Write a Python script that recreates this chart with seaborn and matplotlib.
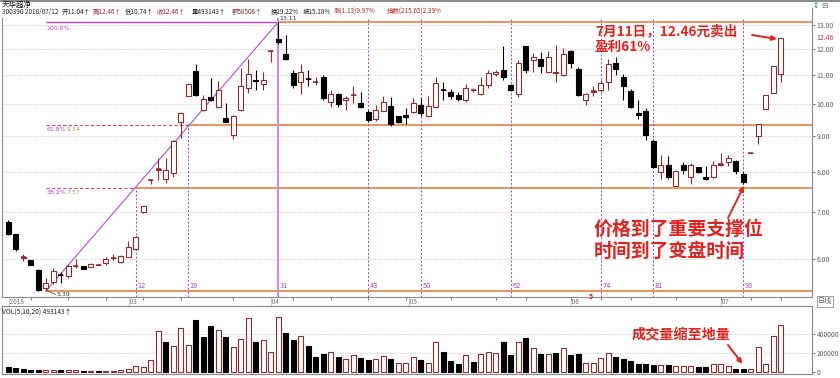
import numpy as np
import pandas as pd
import matplotlib
matplotlib.use("Agg")
import matplotlib.pyplot as plt
import seaborn as sns
from matplotlib.ticker import FixedLocator, NullLocator, NullFormatter, FuncFormatter
from matplotlib.transforms import blended_transform_factory

sns.set_theme(style="white")
plt.rcParams['font.family'] = ['Noto Sans CJK SC', 'DejaVu Sans']
plt.rcParams['axes.unicode_minus'] = False

# ---------------- data ----------------
bar_index = list(range(-5, 99))
opens = [6.78, 6.50, 6.02, 5.97, 5.78,
         5.44, 5.55, 5.69, 5.67, 5.85, 5.85, 5.84, 5.88, 5.92, 6.01,
         5.93, 6.04, 6.20, 6.99, 7.77, 8.05, 7.82, 7.96, 9.42, 10.28,
         11.16, 9.81, 10.24, 9.90, 9.54, 9.03, 9.81, 10.55, 10.82, 10.68,
         11.92, 12.38, 11.80, 11.07, 10.76, 10.88, 10.76, 10.92, 10.07, 10.34,
         10.14, 10.30, 10.05, 9.73, 9.51, 9.79, 9.94, 9.60, 9.65, 9.73,
         9.97, 9.60, 9.91, 10.47, 10.42, 10.31, 10.14, 10.47, 10.34, 10.65,
         11.03, 11.19, 10.65, 10.34, 12.11, 11.57, 11.62, 11.12, 11.07, 11.01,
         11.90, 11.24, 10.14, 10.41, 10.49, 10.77, 11.45, 10.95, 10.45, 9.72,
         9.79, 8.86, 7.98, 8.19, 7.64, 8.19, 7.86, 8.11, 7.86, 7.86,
         8.18, 8.27, 8.28, 7.95, 8.51, 9.00, 9.83, 10.38, 11.04]
highs = [6.82, 6.52, 6.09, 5.98, 5.80,
         5.63, 5.82, 5.75, 5.90, 6.00, 5.86, 5.91, 5.89, 6.03, 6.10,
         6.07, 6.37, 6.47, 7.14, 7.78, 8.37, 8.37, 8.88, 9.74, 10.72,
         11.40, 10.31, 10.91, 10.80, 10.05, 9.66, 11.27, 11.62, 11.20, 11.12,
         11.94, 13.11, 12.57, 11.19, 11.43, 11.20, 10.92, 11.00, 10.48, 10.36,
         10.27, 10.62, 10.42, 9.81, 9.97, 10.27, 10.24, 9.63, 9.86, 10.20,
         10.20, 10.27, 10.92, 10.77, 10.52, 10.40, 10.70, 10.56, 10.92, 11.19,
         11.19, 12.10, 10.70, 11.57, 12.13, 11.83, 11.89, 11.90, 12.16, 12.03,
         11.95, 11.30, 10.38, 10.60, 10.83, 11.60, 11.68, 11.05, 10.50, 10.14,
         9.86, 8.90, 8.45, 8.42, 8.05, 8.27, 8.22, 8.13, 8.14, 8.28,
         8.52, 8.45, 8.32, 7.98, 8.51, 9.36, 10.30, 11.33, 12.46]
lows = [6.48, 6.16, 5.95, 5.87, 5.40,
        5.39, 5.52, 5.53, 5.63, 5.82, 5.79, 5.83, 5.87, 5.88, 5.98,
        5.92, 6.03, 6.18, 6.98, 7.67, 7.78, 7.70, 7.86, 8.95, 10.26,
        10.27, 9.78, 10.09, 9.88, 9.42, 8.90, 9.79, 10.38, 10.48, 10.48,
        11.50, 12.20, 11.57, 10.56, 10.34, 10.60, 10.65, 10.14, 9.90, 9.92,
        9.81, 10.03, 9.87, 9.42, 9.45, 9.77, 9.30, 9.38, 9.36, 9.70,
        9.62, 9.58, 9.88, 10.14, 10.17, 10.10, 10.07, 10.40, 10.30, 10.55,
        10.98, 10.83, 10.44, 10.24, 11.10, 11.12, 11.07, 11.07, 10.74, 10.98,
        11.25, 10.27, 9.97, 10.27, 10.42, 10.46, 11.01, 10.14, 9.88, 9.52,
        8.88, 8.10, 7.80, 7.82, 7.62, 7.95, 7.69, 7.97, 7.78, 7.83,
        8.16, 8.14, 7.93, 7.68, 8.51, 8.77, 9.83, 10.38, 10.74]
closes = [6.52, 6.19, 6.03, 5.88, 5.41,
          5.53, 5.77, 5.68, 5.85, 5.86, 5.80, 5.90, 5.88, 6.00, 6.02,
          6.06, 6.23, 6.44, 7.13, 7.78, 8.08, 8.04, 8.86, 9.72, 10.69,
          10.31, 10.17, 10.14, 10.48, 9.44, 9.62, 10.62, 11.04, 10.80, 10.83,
          11.93, 12.28, 11.60, 10.65, 11.12, 10.87, 10.77, 10.20, 10.34, 10.00,
          10.20, 10.31, 9.89, 9.49, 9.81, 10.08, 9.35, 9.41, 9.58, 10.05,
          9.71, 9.94, 10.72, 10.46, 10.28, 10.17, 10.56, 10.48, 10.65, 11.07,
          11.12, 10.92, 10.48, 11.44, 11.21, 11.70, 11.35, 11.68, 11.12, 11.80,
          11.46, 10.31, 10.34, 10.43, 10.71, 11.43, 11.24, 10.61, 9.91, 9.64,
          9.03, 8.13, 8.19, 7.85, 8.01, 8.04, 8.19, 8.00, 7.80, 8.19,
          8.20, 8.38, 8.02, 7.74, 8.51, 9.36, 10.30, 11.33, 12.46]
volumes = [48000, 40000, 28000, 22000, 26000,
           24000, 22000, 20000, 20000, 18000, 16000, 15000, 12000, 14000, 16000,
           18000, 28000, 63000, 52000, 126000, 428000, 315000, 270000, 458000, 280000,
           544000, 359000, 482000, 434000, 359000, 263000, 342000, 564000, 315000, 332000,
           212000, 571000, 407000, 332000, 373000, 274000, 161000, 188000, 205000, 154000,
           133000, 178000, 143000, 123000, 137000, 168000, 137000, 99000, 96000, 157000,
           122000, 98000, 308000, 210000, 112000, 80000, 182000, 105000, 185000, 210000,
           203000, 315000, 182000, 308000, 357000, 245000, 192000, 185000, 203000, 245000,
           182000, 192000, 98000, 98000, 147000, 200000, 158000, 140000, 112000, 80000,
           80000, 70000, 70000, 77000, 60000, 60000, 60000, 52000, 52000, 80000,
           88000, 63000, 35000, 35000, 28000, 259000, 80000, 378000, 493143]

fib_low, fib_high = 5.39, 13.11
fib_names = ["100.0%", "61.8%", "38.2%"]
fib_values = [13.11, 9.34, 7.57]
fib_cross = [31, 19, 12]
time_marks = [12, 19, 31, 43, 50, 62, 74, 81, 93]
month_labels = ["2018", "03", "04", "05", "06", "07"]
month_pos = [-5, 11, 30, 48.3, 70, 90]
week_ticks = [-2, 3, 8, 13, 18, 25, 33, 38, 43, 48, 54, 60, 64, 70, 74, 78, 84, 90, 94, 98]
price_ticks = [6, 7, 8, 9, 10, 11, 12, 13]
vol_ticks = [0, 200000, 400000]

header_parts = ["300390 2018/07/12", "开11.04↑", "高12.46↑", "低10.74↑", "收12.46↑",
                "量493143↑", "额58508↑", "换29.22%", "振15.18%", "涨(1.13)9.97%",
                "指数(215.65)2.39%"]

# ---------------- styling ----------------
W, H = 840, 378
RED = '#E3231F'
MAROON = '#8E2B2B'
ORANGE = '#EA8A4E'
MAGENTA = '#C040C8'
PURPLE = '#A83CC8'
GRAY = '#606060'

fig = plt.figure(figsize=(W / 100, H / 100), dpi=100)
fig.patch.set_facecolor('white')

def fp(x, y):
    return (x / W, 1 - y / H)

ax = fig.add_axes([2 / W, 1 - 297 / H, 810 / W, 279 / H])
axv = fig.add_axes([2 / W, 1 - 374 / H, 810 / W, 68 / H])
XMIN, XMAX = -5.83, 102.17

df = pd.DataFrame({'bar': bar_index, 'open': opens, 'high': highs, 'low': lows,
                   'close': closes, 'vol': volumes})
df['rise'] = df['close'] >= df['open']
prev = df['close'].shift(1).fillna(df['close'] + 1)
df['vdir'] = np.where(df['close'] >= prev, 'up', 'down')

# ---------------- price panel ----------------
ax.set_yscale('log')
ax.set_xlim(XMIN, XMAX)
ax.set_ylim(5.287, 13.29)
ax.set_facecolor('white')

for p in price_ticks:
    ax.axhline(p, color='#B8B8B8', lw=0.6, ls=(0, (1, 2)), zorder=0)

xmax_line = XMAX
for name, val, cx in zip(fib_names, fib_values, fib_cross):
    if name == "100.0%":
        ax.hlines(val, 0, cx, color=MAGENTA, lw=1.0, zorder=1)
    else:
        ax.hlines(val, 0, cx, color='#E0407A', lw=0.8, linestyles=(0, (3, 2)), zorder=1)
    ax.hlines(val, cx, xmax_line, color=ORANGE, lw=1.3, zorder=1)
ax.hlines(fib_low, 0, xmax_line, color=ORANGE, lw=1.3, zorder=1)
ax.plot([0, 31], [fib_low, fib_high], color='#B84CC8', lw=0.8, zorder=1)

for m in time_marks:
    if m == 31:
        ax.axvline(m, color='#C890DC', lw=1.6, zorder=1)
    elif m == 12:
        ax.vlines(m, 5.287, 7.57, color=PURPLE, lw=0.7, linestyles=(0, (2, 2)), zorder=1)
    elif m == 19:
        ax.vlines(m, 5.287, 9.34, color=PURPLE, lw=0.7, linestyles=(0, (2, 2)), zorder=1)
    else:
        ax.axvline(m, color=PURPLE, lw=0.7, ls=(0, (2, 2)), zorder=1)
    ax.text(m + 0.2, 0.038, str(m), transform=blended_transform_factory(ax.transData, ax.transAxes),
            fontsize=4.8, color=PURPLE, ha='left', va='center', family=['DejaVu Sans'])

x = df['bar'].values
o, h, l, c = df['open'].values, df['high'].values, df['low'].values, df['close'].values
r = df['rise'].values
bot = np.minimum(o, c)
top = np.maximum(o, c)
bw = 0.68
ax.vlines(x[r], l[r], h[r], color=MAROON, lw=0.8, zorder=3)
ax.vlines(x[~r], l[~r], h[~r], color='black', lw=0.8, zorder=3)
ax.bar(x[r], top[r] - bot[r], bottom=bot[r], width=bw, facecolor='white',
       edgecolor=MAROON, lw=0.8, zorder=4)
ax.bar(x[~r], top[~r] - bot[~r], bottom=bot[~r], width=bw, facecolor='black',
       edgecolor='black', lw=0.8, zorder=4)
doji = (top - bot) / bot < 0.004
ax.hlines(c[doji], x[doji] - bw / 2, x[doji] + bw / 2,
          color=np.where(r[doji], MAROON, 'black'), lw=1.1, zorder=5)

ax.yaxis.tick_right()
ax.yaxis.set_major_locator(FixedLocator(price_ticks))
ax.yaxis.set_minor_locator(NullLocator())
ax.yaxis.set_minor_formatter(NullFormatter())
ax.yaxis.set_major_formatter(FuncFormatter(lambda v, _: f"{v:.2f}"))
ax.tick_params(axis='y', which='both', right=True, left=False, length=2, width=0.6,
               color=GRAY, labelsize=5, labelcolor=GRAY, pad=1.5, direction='out')
ax.set_xticks(week_ticks)
ax.set_xticklabels([])
ax.tick_params(axis='x', bottom=True, length=2, width=0.6, color=GRAY, direction='out')
for s in ['left', 'right', 'bottom']:
    ax.spines[s].set_color('#8A8A8A')
    ax.spines[s].set_linewidth(0.8)
ax.spines['top'].set_visible(False)

ax.text(0.1, 12.85, "100.0%", fontsize=4.5, color=MAGENTA, ha='left', va='center', family=['DejaVu Sans'])
for name, val in zip(fib_names[1:], fib_values[1:]):
    ax.text(0.1, val * 0.985, name, fontsize=4.5, color=MAGENTA, ha='left', va='center', family=['DejaVu Sans'])
    ax.text(2.8, val * 0.985, f"{val:.2f}", fontsize=4.5, color='#C09050', ha='left', va='center', family=['DejaVu Sans'])
ax.plot([0.2, 1.3], [5.40, 5.33], color='#555555', lw=0.6)
ax.text(1.4, 5.33, f"{fib_low:.2f}", fontsize=4.5, color='#333333', ha='left', va='center', family=['DejaVu Sans'])
ax.text(32.3, 13.26, f"{fib_high:.2f}", fontsize=4.5, color='#333333', ha='center', va='center',
        family=['DejaVu Sans'], clip_on=False)
ax.text(1.005, 12.46, f"{closes[-1]:.2f}", transform=blended_transform_factory(ax.transAxes, ax.transData),
        fontsize=5, color='#D03030', ha='left', va='center')

# ---------------- volume panel ----------------
sns.barplot(data=df, x='bar', y='vol', hue='vdir', palette={'up': 'white', 'down': 'black'},
            native_scale=True, dodge=False, width=0.66, errorbar=None, legend=False,
            linewidth=0.8, ax=axv, zorder=3)
for p in axv.patches:
    fc = p.get_facecolor()
    p.set_edgecolor(MAROON if fc[0] > 0.5 else 'black')
axv.set_xlim(XMIN, XMAX)
axv.set_ylim(-20000, 686000)
axv.set_xlabel('')
axv.set_ylabel('')
axv.set_xticks([])
for v in vol_ticks[1:]:
    axv.axhline(v, color='#B8B8B8', lw=0.6, ls=(0, (1, 2)), zorder=0)
axv.yaxis.tick_right()
axv.set_yticks(vol_ticks)
axv.set_yticklabels([str(v) for v in vol_ticks])
axv.tick_params(axis='y', right=True, left=False, length=2, width=0.6, color=GRAY,
                labelsize=4.8, labelcolor=GRAY, pad=1.5, direction='out')
for s in ['left', 'right', 'bottom', 'top']:
    axv.spines[s].set_color('#8A8A8A')
    axv.spines[s].set_linewidth(0.8)
axv.text(0.0, 0.91, f"VOL(5,10,20) {volumes[-1]}↑", transform=axv.transAxes, fontsize=4.8,
         color='#222222', ha='left', va='center')

# ---------------- header / strip texts ----------------
fig.add_artist(plt.Line2D([0, 1], [1 - 0.8 / H, 1 - 0.8 / H], transform=fig.transFigure,
                          color='#777777', lw=1.2))
fig.add_artist(plt.Line2D([812 / W, 812 / W], [1 - 8 / H, 1 - 18 / H], transform=fig.transFigure,
                          color='#8A8A8A', lw=0.8))
fig.text(*fp(2, 4.8), "天华超净", fontsize=5.4, color='#111111', ha='left', va='center')
fig.text(*fp(816, 5), "⇕", fontsize=5.5, color='#2E8B57', ha='center', va='center', family=['DejaVu Sans'])
fig.text(*fp(824, 5), "⊟", fontsize=5.5, color='#707070', ha='center', va='center', family=['DejaVu Sans'])
part_x = [2, 62, 93, 125, 157, 192, 232, 271, 303, 334, 387]
part_c = ['#222222', '#222222', '#B02828', '#222222', '#B02828', '#222222', '#7A2A2A',
          '#222222', '#222222', '#B02828', '#B02828']
for txt, px, col in zip(header_parts, part_x, part_c):
    fig.text(*fp(px, 12.0), txt, fontsize=4.6, color=col, ha='left', va='center')

trm = blended_transform_factory(ax.transData, fig.transFigure)
for lab, pos in zip(month_labels, month_pos):
    ax.text(pos, 1 - 301.8 / H, "|" + lab, transform=trm, fontsize=4.6, color='#707070',
            ha='left', va='center', clip_on=False)
ax.text(72.7, 1 - 296.5 / H, "5", transform=trm, fontsize=5, color='#D02020', fontweight='bold',
        ha='center', va='center', clip_on=False)
fig.text(*fp(825, 301.5), "日线", fontsize=5, color='#606060', ha='center', va='center',
         bbox=dict(boxstyle='square,pad=0.15', fc='white', ec='#909090', lw=0.6))

# ---------------- annotations ----------------
fig.text(*fp(595, 31.5), "7月11日，12.46元卖出", fontsize=9.8, color=RED, fontweight='bold',
         ha='left', va='center')
fig.text(*fp(595, 46.5), "盈利61%", fontsize=9.8, color=RED, fontweight='bold',
         ha='left', va='center')
fig.text(*fp(594, 229), "价格到了重要支撑位", fontsize=13.6, color=RED, fontweight='bold',
         ha='left', va='center')
fig.text(*fp(594, 251), "时间到了变盘时间", fontsize=13.6, color=RED, fontweight='bold',
         ha='left', va='center')
fig.text(*fp(632, 335), "成交量缩至地量", fontsize=10.2, color=RED, fontweight='bold',
         ha='left', va='center')

arrow = dict(arrowstyle='-|>', color=RED, lw=1.4, mutation_scale=7, shrinkA=0, shrinkB=0)
ax.annotate('', xy=(97.5, 12.40), xytext=fp(752, 35), textcoords='figure fraction',
            arrowprops=arrow, annotation_clip=False)
ax.annotate('', xy=(93.1, 7.63), xytext=fp(728, 218), textcoords='figure fraction',
            arrowprops=arrow, annotation_clip=False)
axv.annotate('', xy=(92.9, 85000), xytext=fp(728, 345), textcoords='figure fraction',
             arrowprops=arrow, annotation_clip=False)

fig.savefig('out.png', dpi=100, facecolor='white')
